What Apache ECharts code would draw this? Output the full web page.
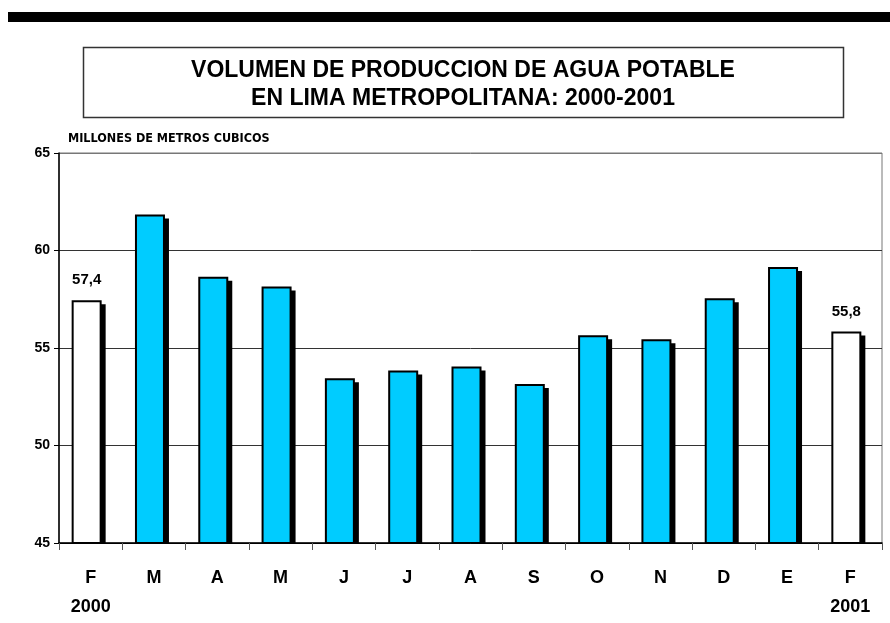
<!DOCTYPE html>
<html>
<head>
<meta charset="utf-8">
<script src="https://cdn.jsdelivr.net/npm/echarts@6/dist/echarts.min.js"></script>
<style>
  html, body { margin: 0; padding: 0; background: #fff; }
  #main { width: 890px; height: 623px; }
</style>
</head>
<body>
<div id="main"></div>
<script>
var chartDom = document.getElementById('main');
var myChart = echarts.init(chartDom);
var option;

// meses feb 2000 - feb 2001
const months = ['F\n2000', 'M', 'A', 'M', 'J', 'J', 'A', 'S', 'O', 'N', 'D', 'E', 'F\n2001'];
const volumes = [57.4, 61.8, 58.6, 58.1, 53.4, 53.8, 54.0, 53.1, 55.6, 55.4, 57.5, 59.1, 55.8];
const whiteBars = [0, 12]; // first and last month: white bar + value label
const yTicks = [45, 50, 55, 60, 65];

const titleLines = ['VOLUMEN DE PRODUCCION DE AGUA POTABLE', 'EN LIMA METROPOLITANA: 2000-2001'];
const unitText = 'MILLONES DE METROS CUBICOS';

const barColor = '#00CCFF';
const font = "'Liberation Sans', Arial, sans-serif";
const narrowFont = "'Liberation Sans Narrow', 'DejaVu Sans Condensed', 'Liberation Sans', sans-serif";

const barWidth = 28;

// bar with a hard black drop shadow, drawn through the axis scales
function renderBar(params, api) {
    var idx = api.value(0);
    var val = api.value(1);
    var top = api.coord([idx, val]);
    var base = api.coord([idx, yTicks[0]]);
    var x = top[0] - barWidth / 2 - 4;
    var h = base[1] - top[1];
    var isWhite = whiteBars.indexOf(params.dataIndex) >= 0;
    var children = [
        {
            type: 'rect',
            shape: { x: x + 5, y: top[1] + 3, width: barWidth, height: h - 2 },
            style: { fill: '#000' }
        },
        {
            type: 'rect',
            shape: { x: x, y: top[1], width: barWidth, height: h },
            style: { fill: isWhite ? '#fff' : barColor, stroke: '#000', lineWidth: 2 }
        }
    ];
    if (isWhite) {
        children.push({
            type: 'text',
            x: x + barWidth / 2,
            y: top[1] - 21,
            style: {
                text: val.toFixed(1).replace('.', ','),
                font: 'bold 15px ' + font,
                fill: '#000',
                align: 'center',
                verticalAlign: 'middle'
            }
        });
    }
    return { type: 'group', children: children };
}

option = {
    animation: false,
    backgroundColor: '#fff',
    textStyle: { fontFamily: font },
    graphic: [
        {
            type: 'rect',
            shape: { x: 8, y: 12, width: 882, height: 10 },
            style: { fill: '#000' }
        },
        {
            type: 'rect',
            shape: { x: 83.5, y: 47.5, width: 760, height: 70 },
            style: { fill: 'none', stroke: '#333', lineWidth: 1.5 }
        },
        {
            type: 'text',
            x: 463,
            y: 71,
            style: {
                text: titleLines[0],
                font: 'bold 23px ' + font,
                fill: '#000',
                align: 'center',
                verticalAlign: 'middle'
            }
        },
        {
            type: 'text',
            x: 463,
            y: 99,
            style: {
                text: titleLines[1],
                font: 'bold 23px ' + font,
                fill: '#000',
                align: 'center',
                verticalAlign: 'middle'
            }
        }
    ],
    grid: {
        left: 59,
        right: 8,
        top: 153,
        bottom: 80,
        show: true,
        borderColor: '#777',
        borderWidth: 1
    },
    xAxis: {
        type: 'category',
        data: months,
        axisLine: { lineStyle: { color: '#000', width: 1.5 } },
        axisTick: { show: true, length: 7, interval: 0, lineStyle: { color: '#555' } },
        axisLabel: {
            interval: 0,
            margin: 21,
            fontSize: 18,
            lineHeight: 29,
            fontWeight: 'bold',
            color: '#000',
            fontFamily: font
        }
    },
    yAxis: {
        type: 'value',
        min: yTicks[0],
        max: yTicks[yTicks.length - 1],
        interval: 5,
        name: unitText,
        nameLocation: 'end',
        nameGap: 8,
        nameTextStyle: {
            align: 'left',
            padding: [0, 0, 0, 9],
            fontFamily: narrowFont,
            fontWeight: 'bold',
            fontSize: 12.5,
            color: '#000'
        },
        axisLine: { show: true, lineStyle: { color: '#000', width: 1.5 } },
        axisTick: { show: true, length: 5, lineStyle: { color: '#000' } },
        axisLabel: {
            margin: 9,
            fontSize: 14,
            fontWeight: 'bold',
            color: '#000',
            fontFamily: font
        },
        splitLine: {
            show: true,
            lineStyle: { color: ['#000', '#333', '#333', '#333', '#777'], width: 1 }
        }
    },
    series: [
        {
            name: 'Volumen',
            type: 'custom',
            renderItem: renderBar,
            clip: true,
            encode: { x: 0, y: 1 },
            data: volumes.map(function (v, i) { return [i, v]; }),
            z: 3
        }
    ]
};

option && myChart.setOption(option);
</script>
</body>
</html>
